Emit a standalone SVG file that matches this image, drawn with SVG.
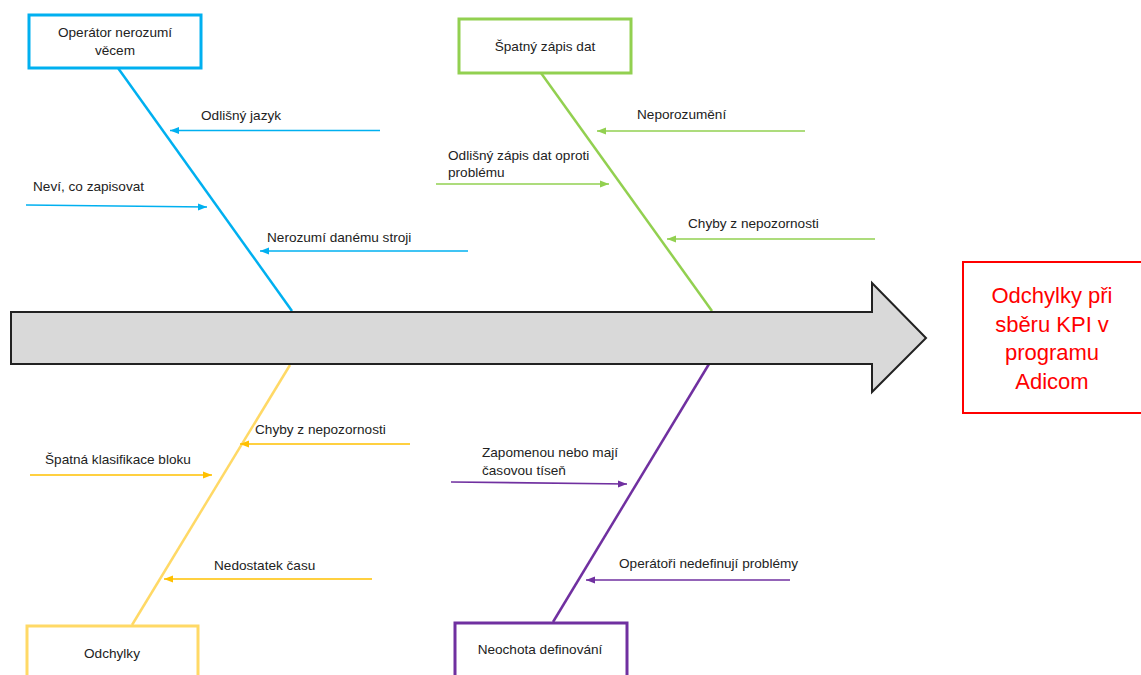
<svg xmlns="http://www.w3.org/2000/svg" width="1141" height="675" viewBox="0 0 1141 675">
<style>
text{font-family:"Liberation Sans",Arial,sans-serif;font-size:13.6px;fill:#222}
.c{text-anchor:middle}
.box{fill:#fff;stroke-width:3}
.spine{stroke-width:2.5;fill:none}
.ar{stroke-width:1.6;fill:none}
.blue{stroke:#00b0f0}.green{stroke:#92d050}.yel{stroke:#ffc000}.yelL{stroke:#ffd966}.pur{stroke:#7030a0}
.res{font-size:22px;fill:#ff0000}
</style>
<defs>
<marker id="mb" markerUnits="userSpaceOnUse" markerWidth="10" markerHeight="8" refX="9" refY="4" orient="auto"><path d="M0,0.5 L9,4 L0,7.5 z" fill="#00b0f0"/></marker>
<marker id="mg" markerUnits="userSpaceOnUse" markerWidth="10" markerHeight="8" refX="9" refY="4" orient="auto"><path d="M0,0.5 L9,4 L0,7.5 z" fill="#92d050"/></marker>
<marker id="my" markerUnits="userSpaceOnUse" markerWidth="10" markerHeight="8" refX="9" refY="4" orient="auto"><path d="M0,0.5 L9,4 L0,7.5 z" fill="#ffc000"/></marker>
<marker id="mp" markerUnits="userSpaceOnUse" markerWidth="10" markerHeight="8" refX="9" refY="4" orient="auto"><path d="M0,0.5 L9,4 L0,7.5 z" fill="#7030a0"/></marker>
</defs>
<rect width="1141" height="675" fill="#fff"/>
<g id="connectors">
<line class="spine blue" x1="118" y1="68" x2="292" y2="311"/>
<line class="spine green" x1="541" y1="73" x2="712" y2="311"/>
<line class="spine yelL" x1="290" y1="365" x2="132" y2="625"/>
<line class="spine pur" x1="709" y1="364" x2="553" y2="622"/>
<line class="ar blue" x1="380" y1="130.5" x2="170" y2="130.5" marker-end="url(#mb)"/>
<line class="ar blue" x1="26" y1="205" x2="207" y2="207" marker-end="url(#mb)"/>
<line class="ar blue" x1="468" y1="251" x2="260" y2="251" marker-end="url(#mb)"/>
<line class="ar green" x1="805" y1="131" x2="597" y2="131" marker-end="url(#mg)"/>
<line class="ar green" x1="436" y1="184" x2="609" y2="184" marker-end="url(#mg)"/>
<line class="ar green" x1="875" y1="239" x2="667" y2="239" marker-end="url(#mg)"/>
<line class="ar yel" x1="410" y1="444" x2="240" y2="444" marker-end="url(#my)"/>
<line class="ar yel" x1="30" y1="475" x2="212" y2="475" marker-end="url(#my)"/>
<line class="ar yel" x1="372" y1="579" x2="164" y2="579" marker-end="url(#my)"/>
<line class="ar pur" x1="451" y1="482" x2="627" y2="484" marker-end="url(#mp)"/>
<line class="ar pur" x1="790" y1="580" x2="586" y2="580" marker-end="url(#mp)"/>
</g>
<g id="labels">
<text x="201" y="120">Odlišný jazyk</text>
<text x="33" y="191">Neví, co zapisovat</text>
<text x="267" y="242">Nerozumí danému stroji</text>
<text x="637" y="119">Neporozumění</text>
<text x="448" y="160">Odlišný zápis dat oproti</text>
<text x="448" y="177">problému</text>
<text x="688" y="228">Chyby z nepozornosti</text>
<text x="255" y="434">Chyby z nepozornosti</text>
<text x="45" y="464">Špatná klasifikace bloku</text>
<text x="214" y="570">Nedostatek času</text>
<text x="482" y="457">Zapomenou nebo mají</text>
<text x="482" y="475">časovou tíseň</text>
<text x="619" y="568">Operátoři nedefinují problémy</text>
</g>
<g id="spine-arrow">
<path d="M11,312 H872 V283 L926,338 L872,392 V364 H11 Z" fill="#d9d9d9" stroke="#222" stroke-width="2" stroke-linejoin="miter"/>
</g>
<g id="node-operator">
<rect class="box blue" x="29" y="15" width="172" height="53"/>
<text class="c" x="115" y="37">Operátor nerozumí</text>
<text class="c" x="115" y="55">věcem</text>
</g>
<g id="node-zapis">
<rect class="box green" x="459" y="19" width="172" height="54"/>
<text class="c" x="545" y="51">Špatný zápis dat</text>
</g>
<g id="node-odchylky">
<rect class="box yelL" x="27" y="626" width="171" height="60"/>
<text class="c" x="112" y="658">Odchylky</text>
</g>
<g id="node-neochota">
<rect class="box pur" x="455" y="623" width="172" height="60"/>
<text class="c" x="540" y="654">Neochota definování</text>
</g>
<g id="node-result">
<rect x="963" y="262" width="180" height="151" fill="#fff" stroke="#ff0000" stroke-width="2"/>
<text class="c res" x="1052" y="303">Odchylky při</text>
<text class="c res" x="1052" y="332">sběru KPI v</text>
<text class="c res" x="1052" y="360">programu</text>
<text class="c res" x="1052" y="389">Adicom</text>
</g>
</svg>
